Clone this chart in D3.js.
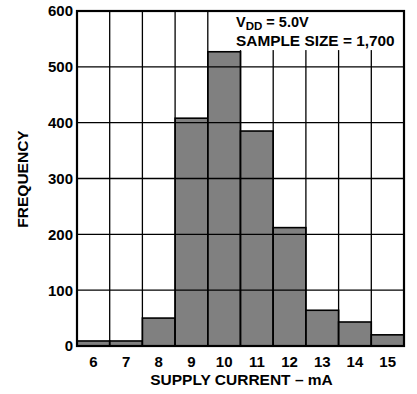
<!DOCTYPE html>
<html><head><meta charset="utf-8">
<script src="https://cdn.jsdelivr.net/npm/d3@7"></script>
<style>
body{margin:0;background:#fff;}
text{font-family:"Liberation Sans",Arial,Helvetica,sans-serif;font-weight:bold;fill:#000;}
</style></head><body>
<svg id="c" width="417" height="394"></svg>
<script>
const categories = [6,7,8,9,10,11,12,13,14,15];
const frequency = [9,9,50,408,527,385,212,64,43,20];
const yTicks = [0,100,200,300,400,500,600];
const xLabel = "SUPPLY CURRENT – mA";
const yLabel = "FREQUENCY";
const note1 = "V";
const note1sub = "DD";
const note1rest = " = 5.0V";
const note2 = "SAMPLE SIZE = 1,700";

const svg = d3.select("#c");
const L=77, R=404, T=11, B=346;
const x = d3.scaleLinear().domain([5.5,15.5]).range([L,R]);
const y = d3.scaleLinear().domain([0,600]).range([B,T]);

// bars
svg.append("g").selectAll("rect").data(categories).join("rect")
  .attr("x",d=>x(d-0.5)).attr("width",x(1)-x(0))
  .attr("y",(d,i)=>y(frequency[i])).attr("height",(d,i)=>B-y(frequency[i]))
  .attr("fill","#808080").attr("stroke","#000").attr("stroke-width",1.6);

// grid on top
const g = svg.append("g");
g.selectAll("line.h").data(yTicks).join("line").attr("class","h")
  .attr("x1",L).attr("x2",R).attr("y1",d=>y(d)).attr("y2",d=>y(d))
  .attr("stroke","#000").attr("stroke-width",1.3);
const vgrid = d3.range(5.5,15.51,1);
g.selectAll("line.v").data(vgrid).join("line").attr("class","v")
  .attr("x1",d=>x(d)).attr("x2",d=>x(d)).attr("y1",T).attr("y2",B)
  .attr("stroke","#000").attr("stroke-width",1.3);

// annotation box
svg.append("rect").attr("x",x(9.5)+1.5).attr("y",T+1)
  .attr("width",x(15.5)-x(9.5)-3).attr("height",y(530)-T-1).attr("fill","#fff");
const t1 = svg.append("text").attr("x",236).attr("y",27).attr("font-size",14.5);
t1.append("tspan").text(note1);
t1.append("tspan").attr("font-size",11.5).attr("dy",3).text(note1sub);
t1.append("tspan").attr("dy",-3).text(note1rest);
svg.append("text").attr("x",236).attr("y",46).attr("font-size",15.4).text(note2);

// border
svg.append("rect").attr("x",L).attr("y",T).attr("width",R-L).attr("height",B-T)
  .attr("fill","none").attr("stroke","#000").attr("stroke-width",2.2);

// y axis labels
svg.append("g").selectAll("text").data(yTicks).join("text")
  .attr("x",73).attr("y",d=>y(d)).attr("dy","0.36em").attr("text-anchor","end")
  .attr("font-size",15).text(d=>d);
// x axis labels
svg.append("g").selectAll("text").data(categories).join("text")
  .attr("x",d=>x(d)).attr("y",367).attr("text-anchor","middle")
  .attr("font-size",15).text(d=>d);

svg.append("text").attr("x",(L+R)/2+1).attr("y",385).attr("text-anchor","middle")
  .attr("font-size",15.5).text(xLabel);
svg.append("text").attr("transform","translate(28,179) rotate(-90)")
  .attr("text-anchor","middle").attr("font-size",15.5).text(yLabel);
</script></body></html>
